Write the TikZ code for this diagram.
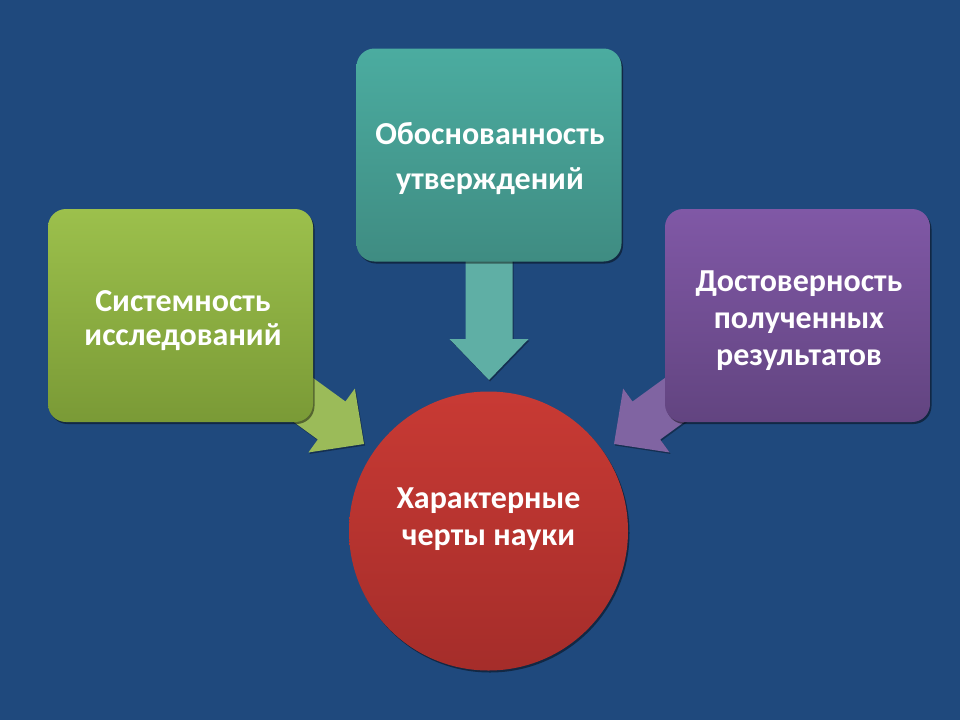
\documentclass[tikz,border=0pt]{standalone}
\usepackage{fontspec}
\setmainfont{Carlito}
\usetikzlibrary{shadows,calc}
\definecolor{bg}{HTML}{1F497D}
\definecolor{gtop}{HTML}{9CC04C}
\definecolor{gbot}{HTML}{7A9A36}
\definecolor{ttop}{HTML}{4BACA0}
\definecolor{tbot}{HTML}{3F8C82}
\definecolor{ptop}{HTML}{8058A6}
\definecolor{pbot}{HTML}{624480}
\definecolor{rtop}{HTML}{C83A34}
\definecolor{rbot}{HTML}{A52D2A}
\definecolor{garrow}{HTML}{9BBB59}
\definecolor{tarrow}{HTML}{5FAFA5}
\definecolor{parrow}{HTML}{8064A2}
\begin{document}
\begin{tikzpicture}[x=1pt,y=-1pt,
  shad/.style={drop shadow={shadow xshift=1.5pt, shadow yshift=-2pt, opacity=0.45, fill=black}},
  box/.style={shad, rounded corners=18pt, minimum width=265pt, minimum height=213pt, inner sep=0pt},
  blockarrow/.style={preaction={fill=black, opacity=0.35, transform canvas={shift={(1pt,-1.5pt)}}}},
  lbl/.style={text=white, align=center, inner sep=0pt, font=\fontsize{32}{37}\selectfont\bfseries}
]
\fill[bg] (0,0) rectangle (960,720);
\useasboundingbox (0,0) rectangle (960,720);

% arrow tips
\coordinate (tipg) at (364,444);
\coordinate (tipt) at (489,380);
\coordinate (tipp) at (614,444);

% block arrows
\begin{scope}[shift={(tipg)}, rotate=-36]
  \fill[garrow, blockarrow] (0,0) -- (-40,39.5) -- (-40,23.5) -- (-110,23.5) -- (-110,-23.5) -- (-40,-23.5) -- (-40,-39.5) -- cycle;
\end{scope}
\begin{scope}[shift={(tipt)}, rotate=-90]
  \fill[tarrow, blockarrow] (0,0) -- (-41,39.5) -- (-41,23.5) -- (-130,23.5) -- (-130,-23.5) -- (-41,-23.5) -- (-41,-39.5) -- cycle;
\end{scope}
\begin{scope}[shift={(tipp)}, rotate=216]
  \fill[parrow, blockarrow] (0,0) -- (-40,39.5) -- (-40,23.5) -- (-110,23.5) -- (-110,-23.5) -- (-40,-23.5) -- (-40,-39.5) -- cycle;
\end{scope}

% boxes
\node[box, top color=gtop, bottom color=gbot] (g) at (180.5,315.5) {};
\node[box, top color=ttop, bottom color=tbot] (t) at (489,155) {};
\node[box, top color=ptop, bottom color=pbot] (p) at (797.5,315.5) {};
\node[lbl, font=\fontsize{32}{34}\selectfont\bfseries] (gtext) at (183,321) {Системность\\исследований};
\node[lbl, font=\fontsize{32}{45}\selectfont\bfseries] (ttext) at (490,159) {Обоснованность\\утверждений};
\node[lbl] (ptext) at (799,320.5) {Достоверность\\полученных\\результатов};

% circle
\node[shad, circle, minimum size=279pt, inner sep=0pt, top color=rtop, bottom color=rbot] (c) at (488.5,531) {};
\node[lbl] (ctext) at (488.5,519) {Характерные\\черты науки};
\end{tikzpicture}
\end{document}
